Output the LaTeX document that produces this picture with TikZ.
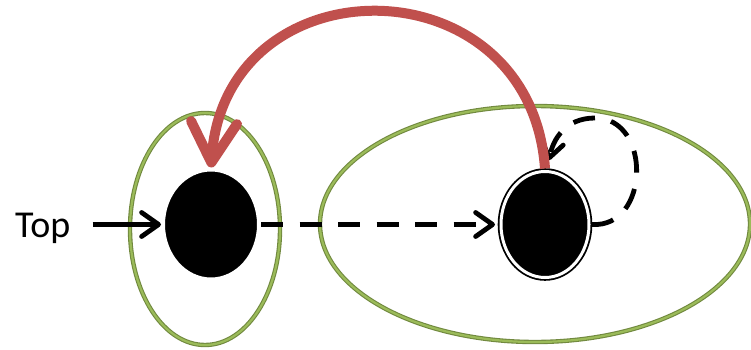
\documentclass[tikz,border=0pt]{standalone}
\usepackage{fontspec}
\setmainfont{Carlito}
\usetikzlibrary{shapes.geometric,arrows.meta,calc}
\definecolor{gdark}{RGB}{113,137,63}
\definecolor{glight}{RGB}{155,187,89}
\definecolor{redarr}{RGB}{192,80,77}
\begin{document}
\begin{tikzpicture}[x=1pt,y=-1pt,
 group/.style={ellipse, draw=gdark, line width=4.4pt, postaction={draw=glight, line width=2.2pt}, inner sep=0pt, outer sep=0pt},
 state/.style={ellipse, fill=black, draw=white, line width=4pt, minimum width=96pt, minimum height=110pt, inner sep=0pt},
 final/.style={ellipse, fill=black, draw=black, double=white, double distance=3pt, line width=1.8pt, minimum width=88pt, minimum height=106pt, inner sep=0pt, outer sep=3pt},
 trans/.style={line width=4.8pt, -{Straight Barb[length=17pt,width=24pt,round]}},
 dashtrans/.style={trans, dash pattern=on 22pt off 16.5pt},
 back/.style={line width=10pt, draw=redarr, -{Straight Barb[length=40pt,width=46pt,round]}}
]
\useasboundingbox (0,0) rectangle (751,350);
% groups
\node[group, minimum width=150pt, minimum height=232pt] (g1) at (205,229) {};
\node[group, minimum width=430pt, minimum height=236pt] (g2) at (535,224) {};
% states
\node[state] (l) at (211,224.5) {};
\node[final] (r) at (545,224.5) {};
% label
\node[anchor=base west, inner sep=0pt, font=\fontsize{38}{40}\selectfont] (top) at (15,237) {Top};
% connectors
\draw[trans] ($(top.east |- l.west)+(22pt,0)$) -- (l.west);
\draw[dashtrans, shorten >=3pt] (l.east) -- (r.west);
\coordinate (lt) at (549,160);
\draw[dashtrans, -{Straight Barb[length=15pt,width=22pt,round]}] (r.east) .. controls (650,228) and (652,118) .. (595,118) .. controls (565,118) and (553,140) .. (lt);
\draw[back] (r.north) .. controls (530,-40) and (225,-40) .. (l.north);
\end{tikzpicture}
\end{document}
